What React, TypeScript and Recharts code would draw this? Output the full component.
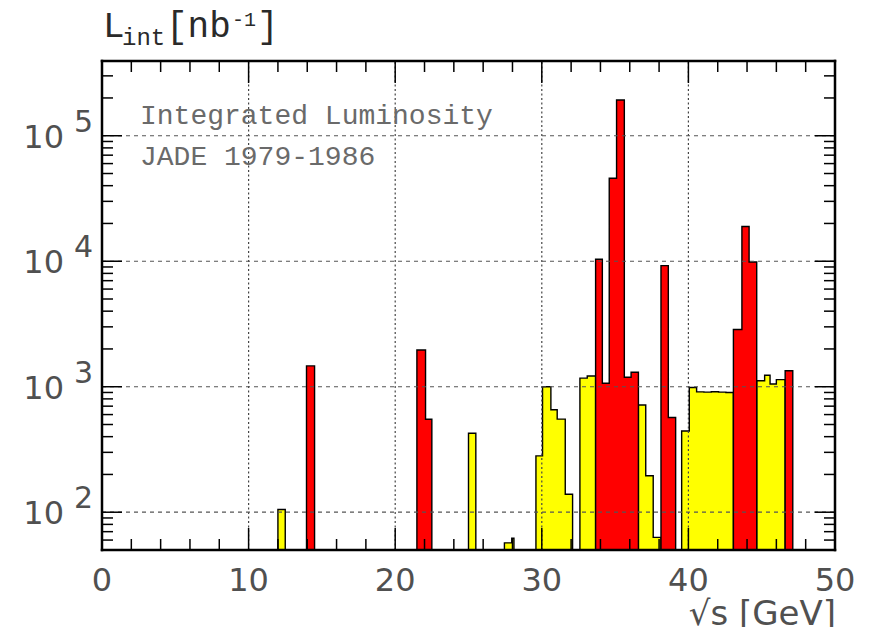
import { ComposedChart, Area, XAxis, YAxis, ReferenceLine } from 'recharts'

const Y_MIN = 50
const Y_MAX = 394000

// yellow bins: lower / upper edge in GeV, integrated luminosity in nb^-1
const yellowLo = [12.0, 25.0, 27.45, 27.95, 29.6, 30.05, 30.62, 31.05, 31.6, 32.6, 33.1, 36.59, 37.09, 37.6, 39.54, 40.06, 40.56, 41.06, 41.56, 42.06, 42.56, 44.66, 45.2, 45.57, 46.0]
const yellowHi = [12.5, 25.5, 27.95, 28.1, 30.05, 30.62, 31.05, 31.6, 32.1, 33.1, 33.67, 37.09, 37.6, 38.13, 40.06, 40.56, 41.06, 41.56, 42.06, 42.56, 43.07, 45.2, 45.57, 46.0, 46.6]
const yellowLum = [105, 426, 57, 62, 281, 1000, 655, 552, 139, 1170, 1218, 716, 195, 63, 444, 985, 910, 905, 912, 905, 900, 1115, 1235, 1050, 1140]

// red bins
const redLo = [13.95, 21.48, 22.07, 33.67, 34.13, 34.6, 35.1, 35.63, 36.09, 38.13, 38.63, 43.07, 43.65, 44.14, 46.6]
const redHi = [14.5, 22.07, 22.5, 34.13, 34.6, 35.1, 35.63, 36.09, 36.59, 38.63, 39.13, 43.65, 44.14, 44.66, 47.12]
const redLum = [1466, 1960, 551, 10370, 1067, 45800, 192800, 1191, 1306, 9230, 568, 2860, 18900, 9870, 1340]

const xMajor = [0, 10, 20, 30, 40, 50]
const xGrid = [10, 20, 30, 40]
const yDecades = [100, 1000, 10000, 100000]
const yExponents = ['2', '3', '4', '5']
const logSteps = [1, 2, 3, 4, 5, 6, 7, 8, 9]

const xTicks = Array.from({ length: 26 }, (_, i) => i * 2)
const yTicks = [10, 100, 1000, 10000, 100000]
  .flatMap((d) => logSteps.map((k) => k * d))
  .filter((v) => v > Y_MIN && v < Y_MAX)

type Row = { x: number; red: number | null; yellow: number | null }

// step outline per run of touching bins, closed down to the axis
function histRows(key: 'red' | 'yellow', lo: number[], hi: number[], lum: number[]): Row[] {
  const rows: Row[] = []
  const blank = (x: number): Row => ({ x, red: null, yellow: null })
  lo.forEach((l, i) => {
    if (i === 0 || Math.abs(hi[i - 1] - l) > 0.01) rows.push({ ...blank(l), [key]: Y_MIN })
    rows.push({ ...blank(l), [key]: lum[i] })
    if (i === lo.length - 1 || Math.abs(lo[i + 1] - hi[i]) > 0.01) {
      rows.push({ ...blank(hi[i]), [key]: lum[i] })
      rows.push({ ...blank(hi[i]), [key]: Y_MIN })
      rows.push(blank(hi[i]))
    }
  })
  return rows
}

const table = [
  ...histRows('yellow', yellowLo, yellowHi, yellowLum),
  ...histRows('red', redLo, redHi, redLum),
]

const tickFont = { fontFamily: 'DejaVu Sans', fill: '#505050' }

// eslint-disable-next-line @typescript-eslint/no-explicit-any
function BottomTick({ x, y, payload }: any) {
  const major = xMajor.includes(payload.value)
  return (
    <g>
      <line x1={x} x2={x} y1={y} y2={y - (major ? 22 : 11)} stroke="#000" strokeWidth={1.5} />
      {major && (
        <text x={x} y={y + 41} textAnchor="middle" fontSize={32} {...tickFont}>
          {payload.value}
        </text>
      )}
    </g>
  )
}

// eslint-disable-next-line @typescript-eslint/no-explicit-any
function TopTick({ x, y, payload }: any) {
  const major = xMajor.includes(payload.value)
  return <line x1={x} x2={x} y1={y} y2={y + (major ? 22 : 11)} stroke="#000" strokeWidth={1.5} />
}

// eslint-disable-next-line @typescript-eslint/no-explicit-any
function LeftTick({ x, y, payload }: any) {
  const idx = yDecades.indexOf(payload.value)
  return (
    <g>
      <line x1={x} x2={x + (idx >= 0 ? 20 : 11)} y1={y} y2={y} stroke="#000" strokeWidth={1.5} />
      {idx >= 0 && (
        <>
          <text x={x - 38} y={y + 12} textAnchor="end" fontSize={32} {...tickFont}>10</text>
          <text x={x - 28} y={y - 4} textAnchor="start" fontSize={30} {...tickFont}>{yExponents[idx]}</text>
        </>
      )}
    </g>
  )
}

// eslint-disable-next-line @typescript-eslint/no-explicit-any
function RightTick({ x, y, payload }: any) {
  const major = yDecades.includes(payload.value)
  return <line x1={x} x2={x - (major ? 20 : 11)} y1={y} y2={y} stroke="#000" strokeWidth={1.5} />
}

const frame = { stroke: '#000', strokeWidth: 2.5, strokeLinecap: 'square' as const }

export default function App() {
  return (
    <div style={{ margin: -8, width: 873, height: 635, position: 'relative', background: '#fff' }}>
      <ComposedChart width={873} height={635} data={table} margin={{ top: 60, right: 37, bottom: 84, left: 101 }}>
        <Area
          dataKey="yellow" type="stepAfter" baseValue={Y_MIN}
          fill="#ffff00" fillOpacity={1} stroke="#000" strokeWidth={1.4}
          connectNulls={false} dot={false} activeDot={false} isAnimationActive={false}
        />
        <Area
          dataKey="red" type="stepAfter" baseValue={Y_MIN}
          fill="#ff0000" fillOpacity={1} stroke="#000" strokeWidth={1.4}
          connectNulls={false} dot={false} activeDot={false} isAnimationActive={false}
        />
        {xGrid.map((v) => (
          <ReferenceLine key={'gx' + v} x={v} stroke="#444" strokeWidth={1.2} strokeDasharray="2 2.5" />
        ))}
        {yDecades.map((v) => (
          <ReferenceLine key={'gy' + v} y={v} stroke="#555" strokeWidth={1.2} strokeDasharray="4 4" />
        ))}
        <XAxis
          dataKey="x" type="number" domain={[0, 50]} allowDataOverflow ticks={xTicks} interval={0}
          height={1} tickSize={0} tickMargin={0} tickLine={false} axisLine={frame} tick={<BottomTick />}
        />
        <XAxis
          xAxisId="top" orientation="top" dataKey="x" type="number" domain={[0, 50]} allowDataOverflow
          ticks={xTicks} interval={0} height={1} tickSize={0} tickMargin={0} tickLine={false}
          axisLine={frame} tick={<TopTick />}
        />
        <YAxis
          type="number" scale="log" domain={[Y_MIN, Y_MAX]} allowDataOverflow ticks={yTicks} interval={0}
          width={1} tickSize={0} tickMargin={0} tickLine={false} axisLine={frame} tick={<LeftTick />}
        />
        <YAxis
          yAxisId="right" orientation="right" type="number" scale="log" domain={[Y_MIN, Y_MAX]}
          allowDataOverflow ticks={yTicks} interval={0} width={1} tickSize={0} tickMargin={0}
          tickLine={false} axisLine={frame} tick={<RightTick />}
        />
      </ComposedChart>
      <svg width={873} height={635} style={{ position: 'absolute', left: 0, top: 0, pointerEvents: 'none' }}>
        <g fontFamily="Liberation Mono" fill="#2a2a2a">
          <text x={103} y={37} fontSize={36}>L</text>
          <text x={122} y={45} fontSize={24}>int</text>
          <text x={166} y={37} fontSize={36}>[nb</text>
          <text x={232} y={26} fontSize={20}>-1</text>
          <text x={257} y={37} fontSize={36}>]</text>
        </g>
        <g fontFamily="Liberation Mono" fill="#6a6a6a" fontSize={28}>
          <text x={140} y={124}>Integrated Luminosity</text>
          <text x={140} y={165}>JADE 1979-1986</text>
        </g>
        <text x={836} y={625} textAnchor="end" fontSize={34} fontFamily="DejaVu Sans" fill="#505050">
          √s [GeV]
        </text>
      </svg>
    </div>
  )
}
